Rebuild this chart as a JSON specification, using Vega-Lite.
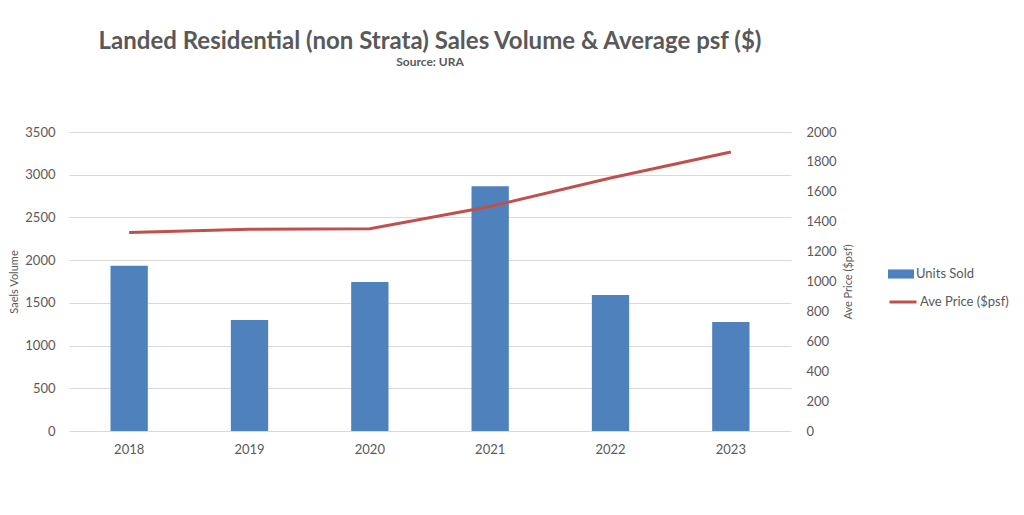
{
  "$schema": "https://vega.github.io/schema/vega-lite/v6.json",
  "autosize": {"type": "none"},
  "width": 722,
  "height": 299,
  "padding": {"left": 69, "top": 132, "right": 233, "bottom": 84},
  "background": "white",
  "config": {
    "view": {"stroke": null},
    "font": "Lato",
    "axis": {"labelFont": "Lato", "titleFont": "Lato", "labelColor": "#595959", "titleColor": "#595959"}
  },
  "title": {
    "text": "Landed Residential (non Strata) Sales Volume & Average psf ($)",
    "subtitle": "Source: URA",
    "anchor": "middle",
    "font": "Lato",
    "fontSize": 24,
    "fontWeight": "bold",
    "color": "#595959",
    "subtitleFont": "Lato",
    "subtitleFontSize": 12,
    "subtitleFontWeight": "bold",
    "subtitleColor": "#595959",
    "subtitlePadding": 3,
    "offset": 58
  },
  "data": {
    "values": [
      {"year": "2018", "units": 1935, "price": 1328},
      {"year": "2019", "units": 1300, "price": 1350},
      {"year": "2020", "units": 1745, "price": 1353},
      {"year": "2021", "units": 2865, "price": 1502},
      {"year": "2022", "units": 1593, "price": 1692},
      {"year": "2023", "units": 1277, "price": 1866}
    ]
  },
  "encoding": {
    "x": {
      "field": "year",
      "type": "nominal",
      "scale": {"paddingInner": 0.69, "paddingOuter": 0.345},
      "axis": {
        "title": null,
        "labelAngle": 0,
        "labelFontSize": 13,
        "labelPadding": 12,
        "domain": false,
        "ticks": false,
        "grid": false
      }
    }
  },
  "layer": [
    {
      "mark": {"type": "bar"},
      "encoding": {
        "y": {
          "field": "units",
          "type": "quantitative",
          "scale": {"domain": [0, 3500]},
          "axis": {
            "title": "Saels Volume",
            "titleFontSize": 11,
            "titleFontWeight": "normal",
            "titlePadding": 5,
            "format": "d",
            "values": [0, 500, 1000, 1500, 2000, 2500, 3000, 3500],
            "labelFontSize": 13,
            "labelPadding": 14,
            "domain": false,
            "ticks": false,
            "grid": true,
            "gridColor": "#D9D9D9",
            "gridWidth": 1
          }
        },
        "fill": {
          "datum": "Units Sold",
          "type": "nominal",
          "scale": {"domain": ["Units Sold"], "range": ["#4F81BD"]},
          "legend": {
            "title": null,
            "orient": "none",
            "legendX": 819,
            "legendY": 129,
            "symbolType": "M-1,-0.35L1,-0.35L1,0.35L-1,0.35Z",
            "symbolSize": 676,
            "symbolStrokeWidth": 0,
            "labelFont": "Lato",
            "labelFontSize": 13,
            "labelColor": "#595959",
            "labelOffset": 2
          }
        }
      }
    },
    {
      "mark": {"type": "line", "strokeWidth": 3},
      "encoding": {
        "y": {
          "field": "price",
          "type": "quantitative",
          "scale": {"domain": [0, 2000]},
          "axis": {
            "orient": "right",
            "title": "Ave Price ($psf)",
            "titleAngle": 270,
            "titleFontSize": 11,
            "titleFontWeight": "normal",
            "titlePadding": 17,
            "format": "d",
            "values": [0, 200, 400, 600, 800, 1000, 1200, 1400, 1600, 1800, 2000],
            "labelFontSize": 13,
            "labelPadding": 15,
            "domain": false,
            "ticks": false,
            "grid": false
          }
        },
        "stroke": {
          "datum": "Ave Price ($psf)",
          "type": "nominal",
          "scale": {"domain": ["Ave Price ($psf)"], "range": ["#C0504D"]},
          "legend": {
            "title": null,
            "orient": "none",
            "legendX": 819,
            "legendY": 155,
            "symbolType": "stroke",
            "symbolSize": 729,
            "symbolStrokeWidth": 3,
            "labelFont": "Lato",
            "labelFontSize": 13,
            "labelColor": "#595959",
            "labelOffset": 2
          }
        }
      }
    }
  ],
  "resolve": {"scale": {"y": "independent", "fill": "independent", "stroke": "independent"}}
}
